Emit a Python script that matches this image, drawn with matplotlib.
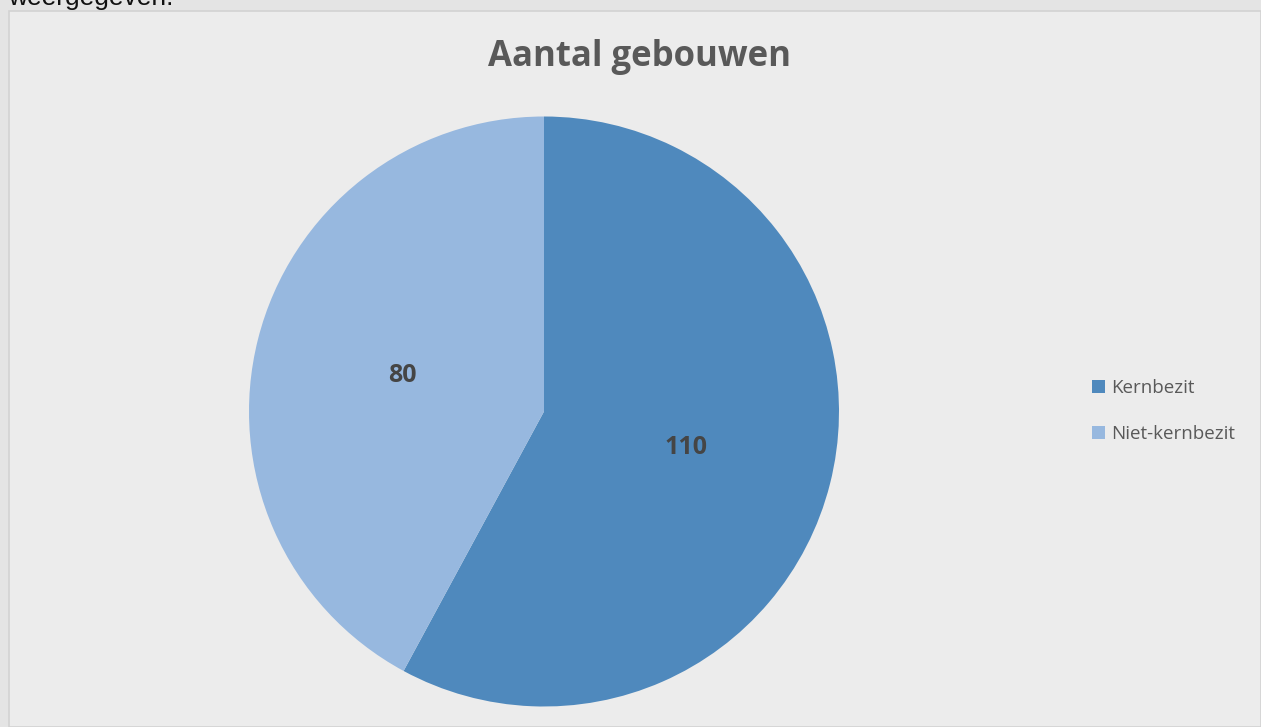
import matplotlib.pyplot as plt
from matplotlib.patches import Rectangle

categorieen = ['Kernbezit', 'Niet-kernbezit']
aantallen = [110, 80]
kleuren = ['#4F89BD', '#97B8DF']
titel = 'Aantal gebouwen'

W, H = 1261, 727
fig = plt.figure(figsize=(W/100, H/100), dpi=100)
fig.patch.set_facecolor('#E4E4E4')

# chart area of the screenshot
fig.patches.append(Rectangle((9/W, 0), (W-9)/W, (H-11)/H, transform=fig.transFigure,
                             facecolor='#ECECEC', edgecolor='#D2D2D2', linewidth=1.2, zorder=-10))
fig.text(8/W, 1-5/H, 'weergegeven.', fontsize=19, color='#111111',
         family='Liberation Sans', va='baseline', ha='left')

cx, cy, r = 544, H-411.5, 295
ax = fig.add_axes([(cx-r)/W, (cy-r)/H, 2*r/W, 2*r/H])
ax.patch.set_visible(False)
totaal = sum(aantallen)
wedges, teksten, waarden = ax.pie(aantallen, colors=kleuren, startangle=90, counterclock=False,
                                  autopct=lambda p: f'{round(p*totaal/100)}', pctdistance=0.495,
                                  textprops=dict(fontsize=18, fontweight='bold', color='#454545',
                                                 family='Open Sans'))
ax.set_xlim(-1, 1)
ax.set_ylim(-1, 1)
ax.set_aspect('equal')
ax.axis('off')

fig.text(640/W, 1-57/H, titel, fontsize=25, fontweight='bold', color='#595959',
         family='Open Sans', ha='center', va='center')

leg = fig.legend(wedges, categorieen, loc='center left', bbox_to_anchor=(1075/W, 1-411/H),
                 frameon=False, handlelength=0.7, handleheight=0.7, handletextpad=0.35,
                 labelspacing=1.5, prop=dict(family='Open Sans', size=13.5))
for t in leg.get_texts():
    t.set_color('#595959')

fig.savefig('out.png', dpi=100, facecolor=fig.get_facecolor())
